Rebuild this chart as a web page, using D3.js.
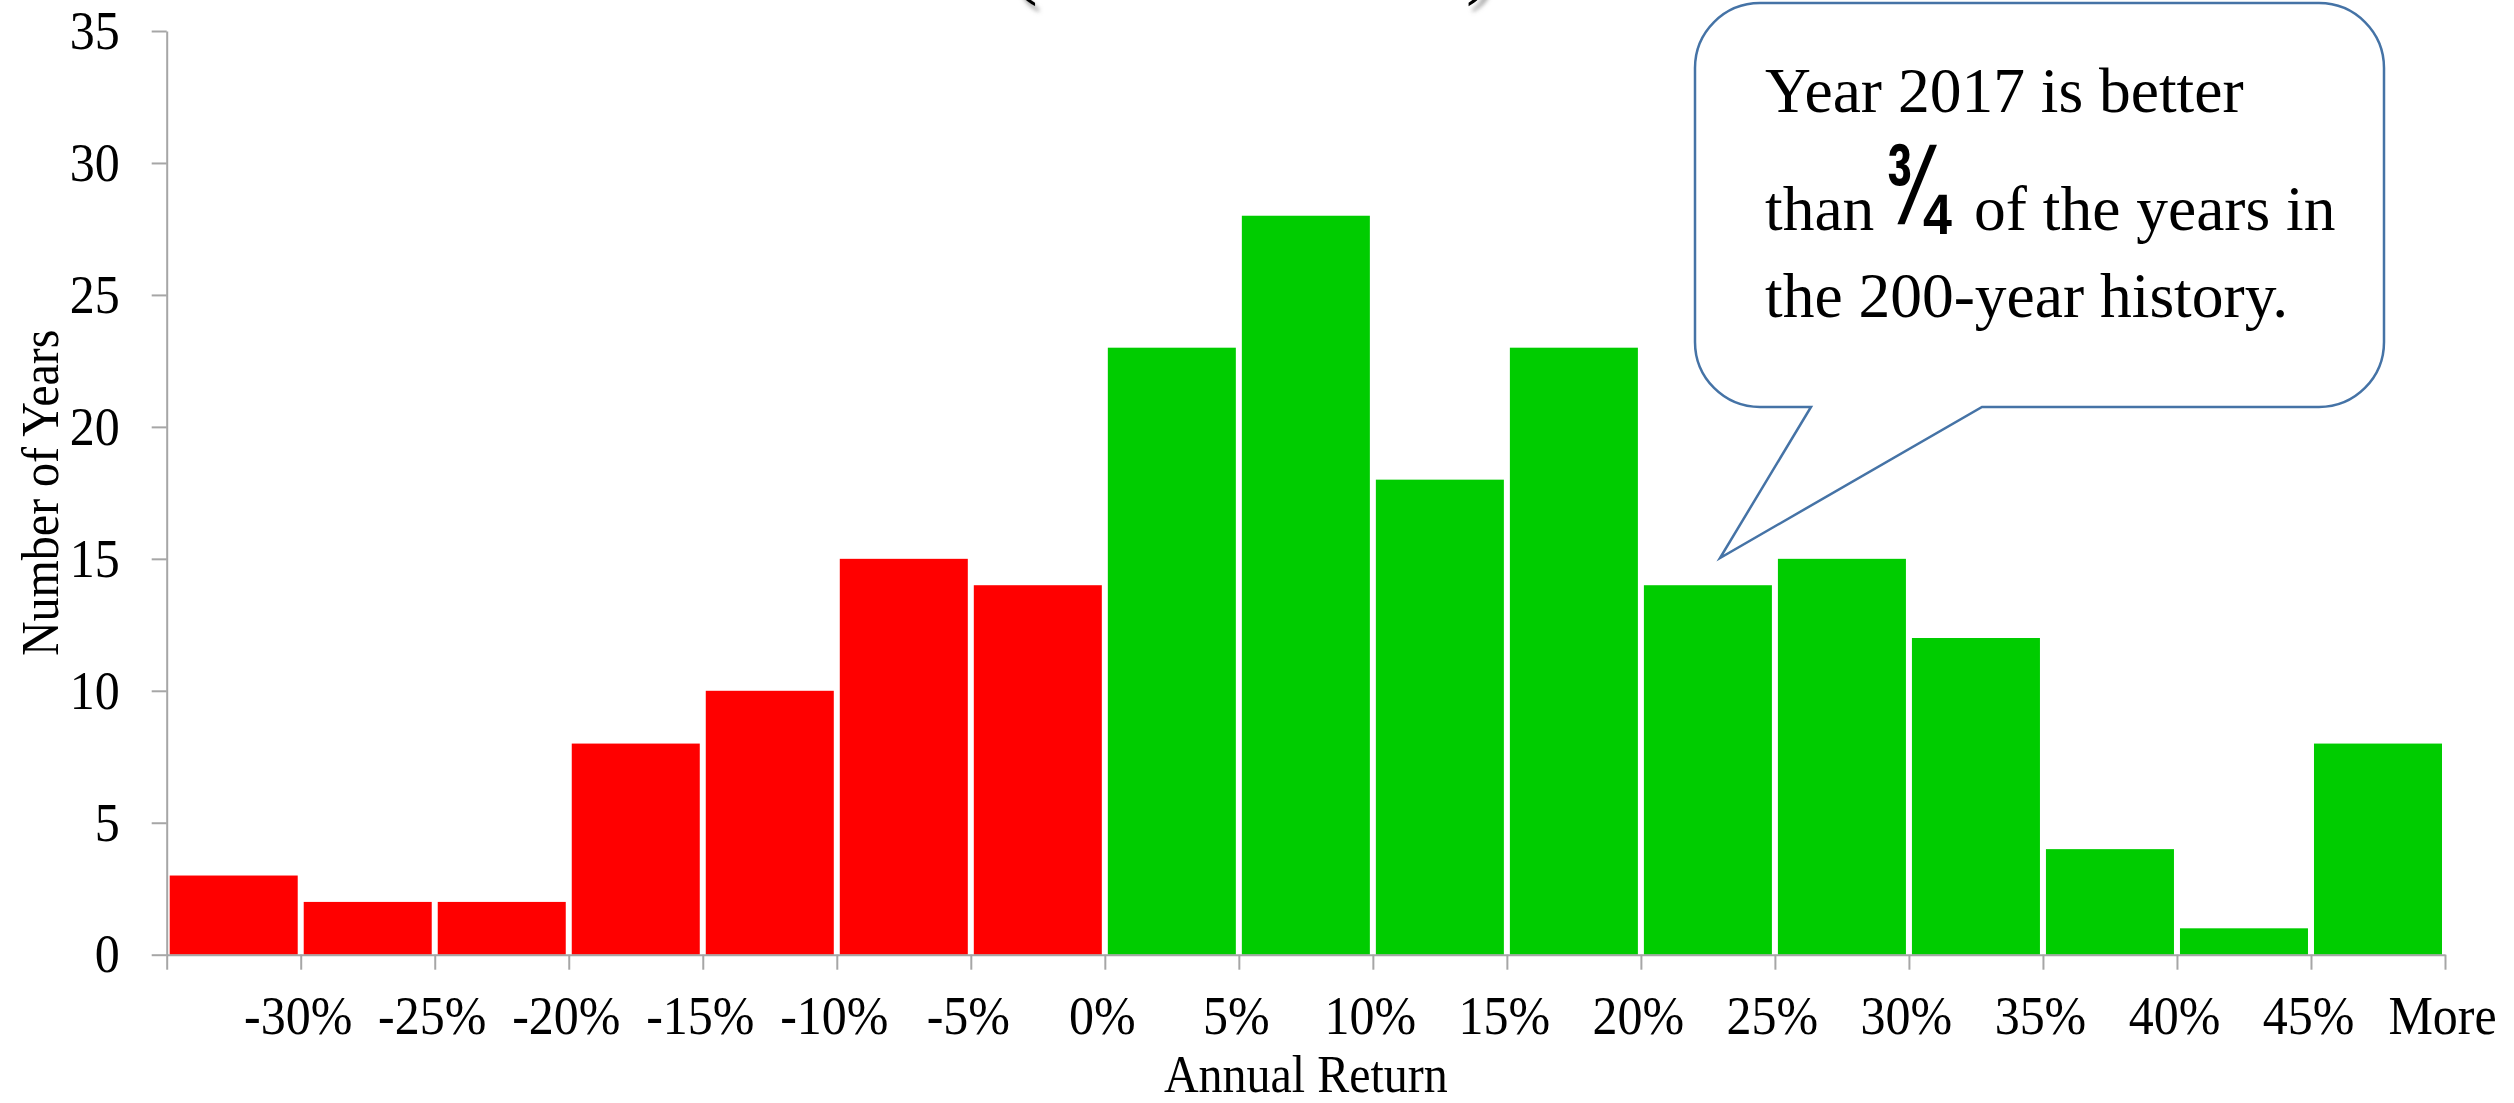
<!DOCTYPE html>
<html>
<head>
<meta charset="utf-8">
<script src="https://cdn.jsdelivr.net/npm/d3@7/dist/d3.min.js"></script>
<style>
  html, body { margin: 0; padding: 0; background: #ffffff; overflow: hidden; }
  svg { display: block; }
</style>
</head>
<body>
<svg id="chart" width="2514" height="1103"></svg>
<script>
// ---------------- data ----------------
const categories = ["-30%","-25%","-20%","-15%","-10%","-5%","0%","5%","10%","15%","20%","25%","30%","35%","40%","45%","More"];
const counts     = [3, 2, 2, 8, 10, 15, 14, 23, 28, 18, 23, 14, 15, 12, 4, 1, 8];
const yTicks     = [0, 5, 10, 15, 20, 25, 30, 35];
const yTitle     = "Number of Years";
const xTitle     = "Annual Return";
const calloutLines = ["Year 2017 is better", "than", "\u00BE", "of the years in", "the 200-year history."];

// ---------------- layout ----------------
const plotL = 166.7, plotR = 2445, plotT = 31, plotB = 954.7;
const serif = "'Liberation Serif', 'Times New Roman', Times, serif";
const axisColor = "#a6a6a6";
const stretch = 1.08;

const svg = d3.select("#chart");
const defs = svg.append("defs");
const shadow = defs.append("filter").attr("id", "shadow")
  .attr("x", "-50%").attr("y", "-50%").attr("width", "200%").attr("height", "200%");
shadow.append("feDropShadow").attr("dx", 4).attr("dy", 6).attr("stdDeviation", 2.2)
  .attr("flood-color", "#808080").attr("flood-opacity", 0.7);

const y = d3.scaleLinear().domain([0, 35]).range([plotB, plotT]);
const x = d3.scaleBand().domain(categories).range([plotL, plotR]).padding(0);
// boundaries between bins; each label sits at the right edge of its bin
const edges = d3.scalePoint().domain(["__start"].concat(categories)).range([plotL, plotR]).padding(0);

// ---------------- bars ----------------
const isLoss = c => c !== "More" && parseFloat(c) <= 0;
svg.append("g").selectAll("rect")
  .data(categories.map((c, i) => ({ c, v: counts[i] })))
  .join("rect")
  .attr("x", d => x(d.c) + 3)
  .attr("width", x.bandwidth() - 6)
  .attr("y", d => y(d.v))
  .attr("height", d => y(0) - y(d.v))
  .attr("fill", d => isLoss(d.c) ? "#ff0000" : "#00cc00");

// ---------------- y axis ----------------
const yAxis = svg.append("g")
  .attr("transform", `translate(${plotL},0)`)
  .call(d3.axisLeft(y).tickValues(yTicks).tickSize(15).tickSizeOuter(0).tickPadding(32));
yAxis.select(".domain").attr("stroke", axisColor).attr("stroke-width", 2);
yAxis.selectAll(".tick line").attr("stroke", axisColor).attr("stroke-width", 2);
yAxis.selectAll(".tick text")
  .attr("font-family", serif).attr("font-size", 50).attr("fill", "#000")
  .attr("transform", `scale(1,${stretch})`);

// ---------------- x axis ----------------
const xAxis = svg.append("g")
  .attr("transform", `translate(0,${plotB})`)
  .call(d3.axisBottom(edges).tickSize(15).tickSizeOuter(0)
    .tickFormat(d => d === "__start" ? "" : d));
xAxis.select(".domain").attr("stroke", axisColor).attr("stroke-width", 2);
xAxis.selectAll(".tick line").attr("stroke", axisColor).attr("stroke-width", 2);
xAxis.selectAll(".tick text")
  .attr("font-family", serif).attr("font-size", 50).attr("fill", "#000")
  .attr("y", 0).attr("dy", 0)
  .attr("transform", `translate(-3,79) scale(1,${stretch})`);

// ---------------- axis titles ----------------
svg.append("text")
  .attr("transform", `translate(58,${(plotT + plotB) / 2}) rotate(-90) scale(1,${stretch})`)
  .attr("text-anchor", "middle")
  .attr("font-family", serif).attr("font-size", 48).attr("fill", "#000")
  .text(yTitle);

svg.append("text")
  .attr("transform", `translate(${(plotL + plotR) / 2},1092) scale(1,${stretch})`)
  .attr("text-anchor", "middle")
  .attr("font-family", serif).attr("font-size", 48).attr("fill", "#000")
  .text(xTitle);

// ---------------- clipped title fragments at top ----------------
[["(", 1011], [")", 1466]].forEach(([ch, px]) => {
  svg.append("text").attr("x", px).attr("y", -11)
    .attr("font-family", serif).attr("font-size", 80).attr("fill", "#000")
    .attr("filter", "url(#shadow)").text(ch);
});

// ---------------- callout ----------------
const bL = 1695, bR = 2384, bT = 3, bB = 407, rad = 65;
const tailL = 1811, tailR = 1982, tipX = 1720, tipY = 558;
const p = d3.path();
p.moveTo(bL + rad, bT);
p.lineTo(bR - rad, bT);
p.arcTo(bR, bT, bR, bT + rad, rad);
p.lineTo(bR, bB - rad);
p.arcTo(bR, bB, bR - rad, bB, rad);
p.lineTo(tailR, bB);
p.lineTo(tipX, tipY);
p.lineTo(tailL, bB);
p.lineTo(bL + rad, bB);
p.arcTo(bL, bB, bL, bB - rad, rad);
p.lineTo(bL, bT + rad);
p.arcTo(bL, bT, bL + rad, bT, rad);
p.closePath();
svg.append("path").attr("d", p.toString())
  .attr("fill", "#ffffff").attr("stroke", "#4573a6").attr("stroke-width", 2.5)
  .attr("stroke-linejoin", "miter");

const tx = 1765, fs = 63.5;
const addText = (str, tr, extra) => {
  const t = svg.append("text").attr("transform", tr)
    .attr("font-family", serif).attr("font-size", fs).attr("fill", "#000").text(str);
  if (extra) extra(t);
  return t;
};
addText(calloutLines[0], `translate(${tx},112)`);
addText(calloutLines[1], `translate(${tx},230)`);
addText(calloutLines[2], `translate(1885,224) scale(1,1.55)`, t =>
  t.attr("font-family", "'Liberation Sans', Arial, sans-serif")
   .attr("font-weight", "bold").attr("font-size", 74));
addText(calloutLines[3], `translate(1974,230)`);
addText(calloutLines[4], `translate(${tx},317)`);
</script>
</body>
</html>
